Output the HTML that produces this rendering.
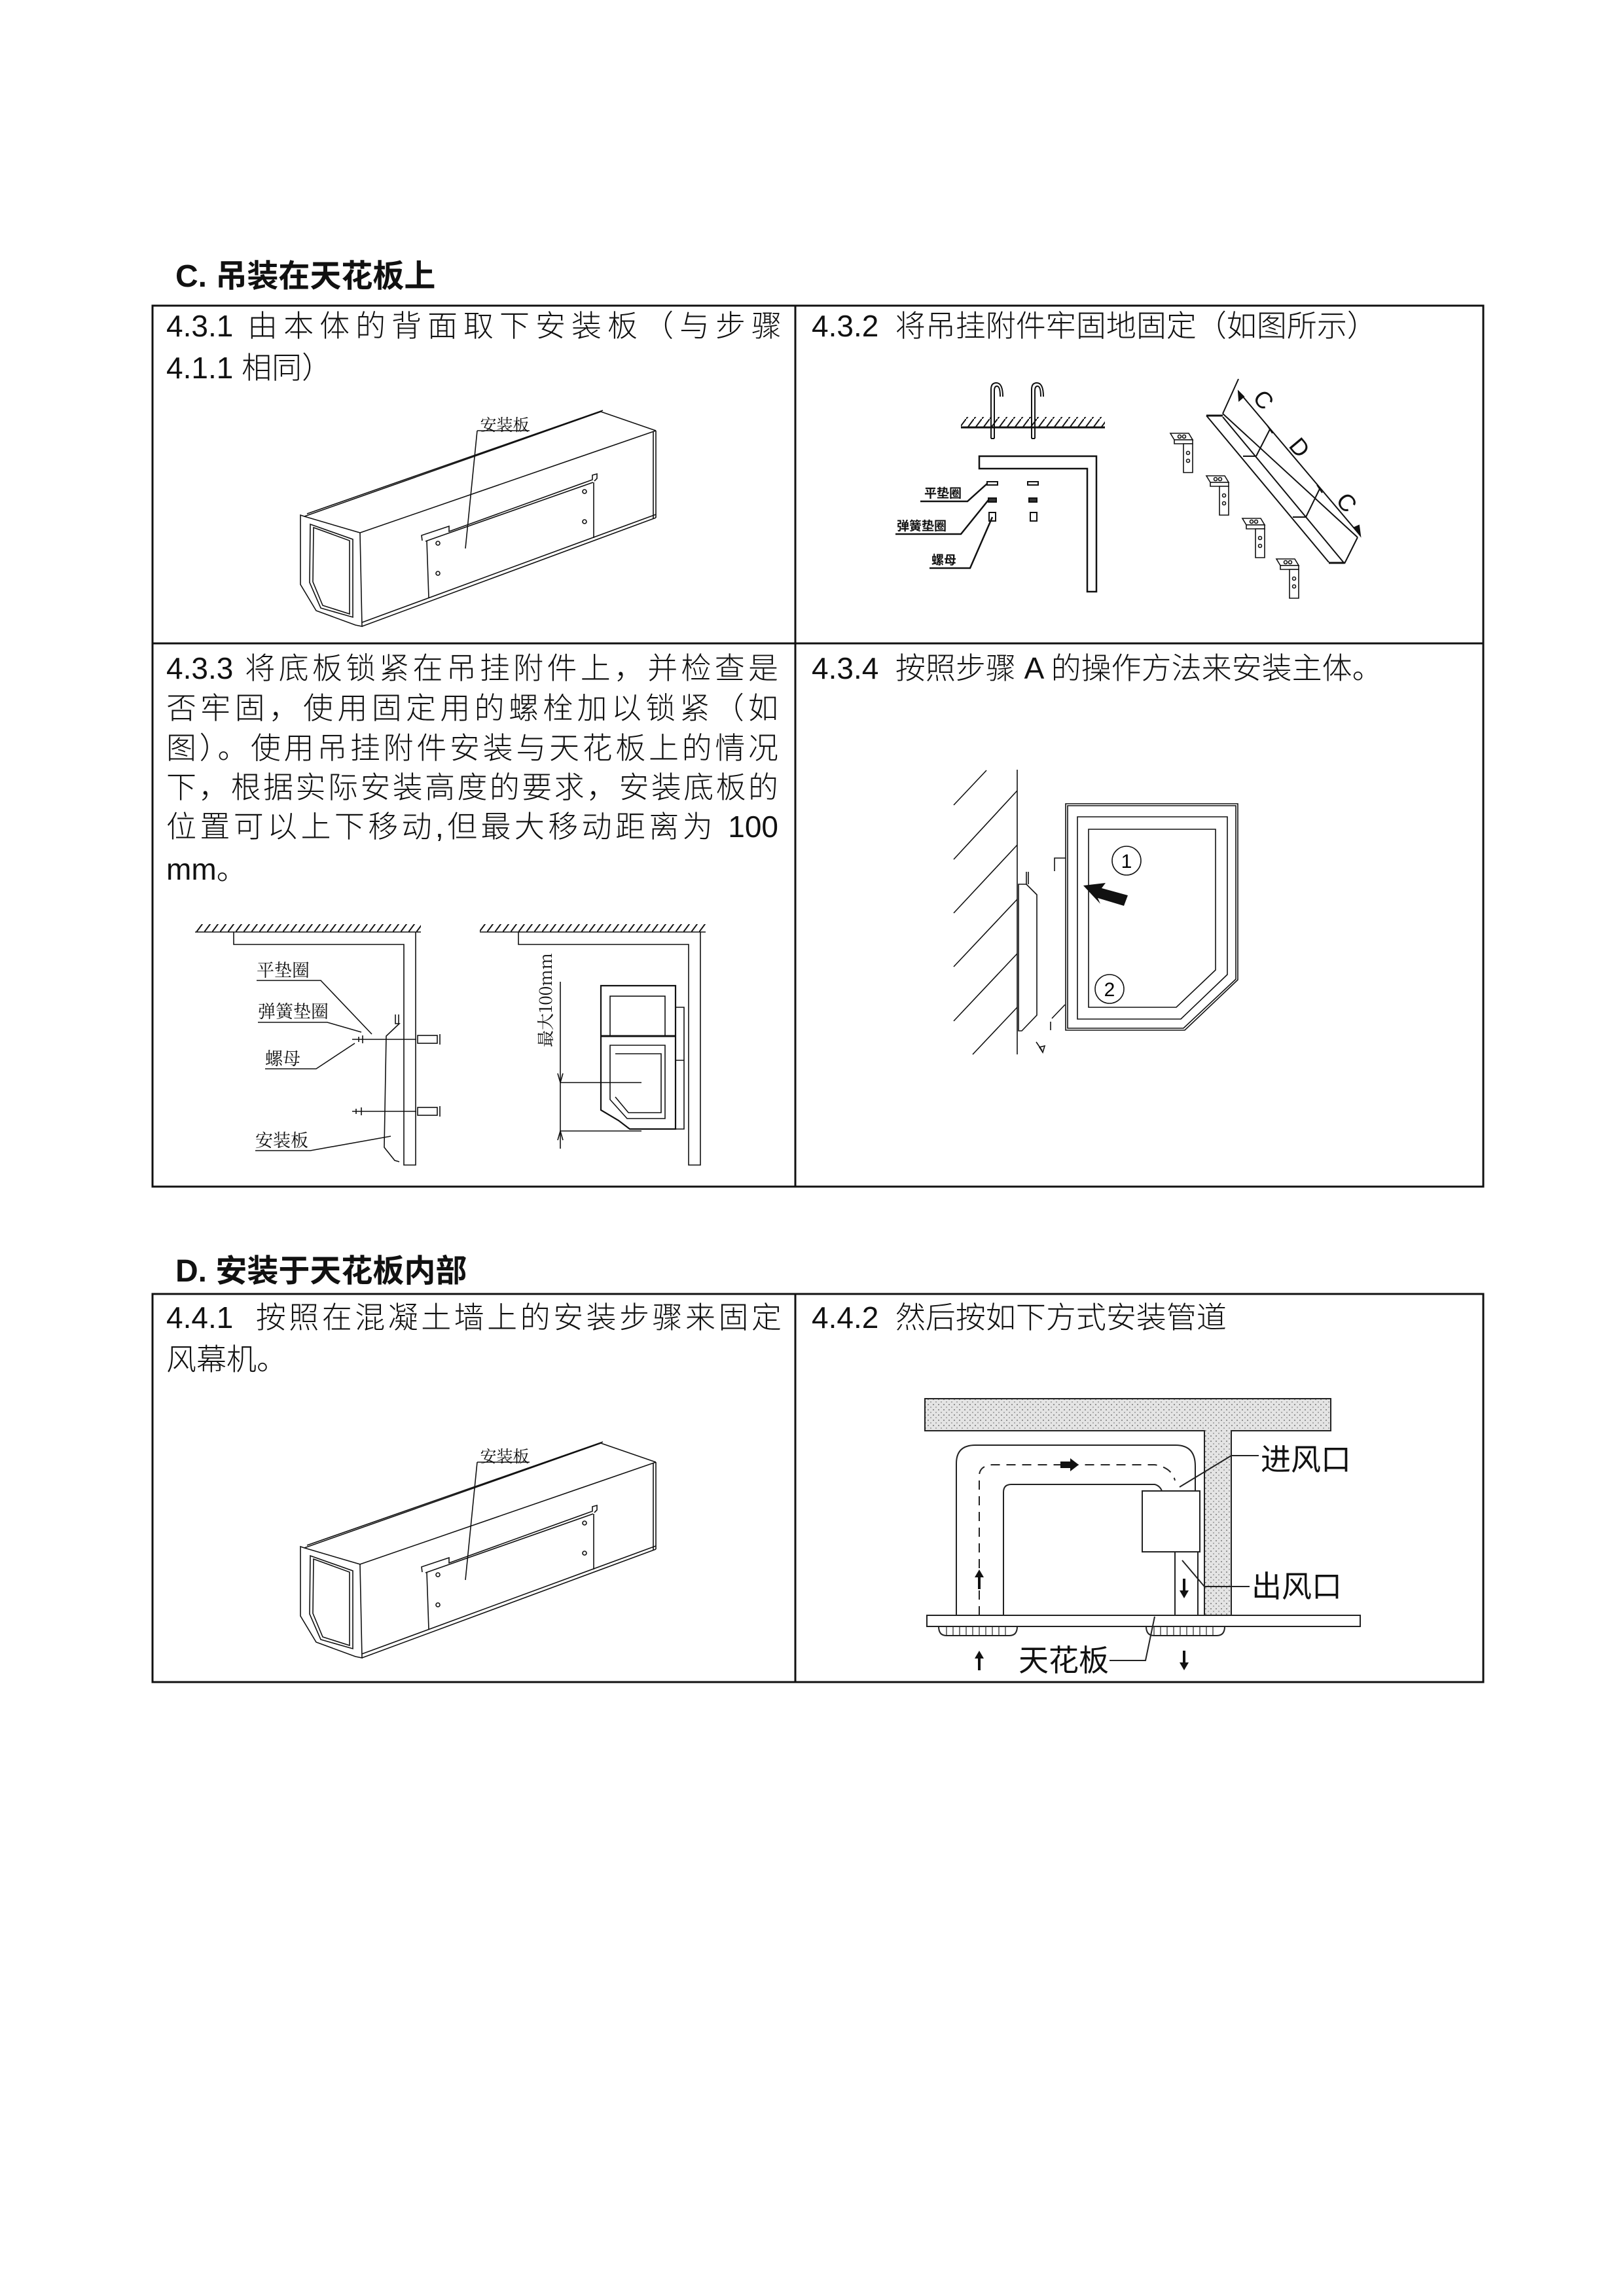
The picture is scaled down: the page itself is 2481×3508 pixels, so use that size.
<!DOCTYPE html>
<html><head><meta charset="utf-8"><style>
html,body{margin:0;padding:0;background:#fff;}
body{width:2481px;height:3508px;position:relative;overflow:hidden;font-family:"Liberation Sans","Noto Sans CJK SC",sans-serif;color:#111;}
.h{position:absolute;font-weight:bold;font-size:48px;line-height:60px;white-space:nowrap;}
.t{position:absolute;font-size:46px;line-height:62px;height:62px;white-space:nowrap;font-weight:300;}
.j{text-align:justify;text-align-last:justify;}
svg{position:absolute;left:0;top:0;}
</style></head><body>
<svg width="2481" height="3508" viewBox="0 0 2481 3508" xmlns="http://www.w3.org/2000/svg">
<defs>
<pattern id="hatch" width="12" height="16" patternUnits="userSpaceOnUse"><line x1="0" y1="16" x2="12" y2="0" stroke="#111" stroke-width="2"/></pattern>
<pattern id="dots" width="8" height="8" patternUnits="userSpaceOnUse"><rect width="8" height="8" fill="#e4e4e4"/><circle cx="2" cy="2" r="1" fill="#777"/><circle cx="6" cy="6" r="1" fill="#999"/></pattern>
<g id="box" fill="none" stroke="#111" stroke-width="1.6">
<path d="M465,789 L550,814 L553,957 L543,955 L483,933 L459,893 L459,787 Z"/>
<path d="M474,801 L539,824 L539,943 L490,929 L473,890 Z"/>
<path d="M479,806 L534,826 L534,938 L493,925 L478,889 Z"/>
<line x1="465" y1="789" x2="918" y2="629"/><line x1="469" y1="785" x2="921" y2="627"/>
<line x1="918" y1="629" x2="1002" y2="658"/>
<line x1="550" y1="814" x2="1002" y2="658"/>
<line x1="1002" y1="658" x2="1002" y2="791"/><line x1="998" y1="660" x2="998" y2="792"/>
<line x1="553" y1="957" x2="1002" y2="791"/><line x1="553" y1="951" x2="1002" y2="786"/>
<path d="M645,826 L644,818 L686,804 L686,812 L905,733 L905,726 L912,724 L912,731 L908,735"/>
<line x1="650" y1="827" x2="906" y2="737"/>
<path d="M652,826 L655,913 M907,737 L907,822"/>
<circle cx="669" cy="830" r="3"/><circle cx="669" cy="876" r="3"/><circle cx="893" cy="751" r="3"/><circle cx="893" cy="797" r="3"/>
<line x1="729" y1="658" x2="809" y2="658"/><line x1="729" y1="658" x2="711" y2="838"/>
</g>
</defs>
<!-- tables -->
<g fill="none" stroke="#111" stroke-width="3">
<rect x="233" y="467" width="2033" height="1346"/>
<line x1="1215" y1="467" x2="1215" y2="1813"/>
<line x1="233" y1="983" x2="2266" y2="983"/>
<rect x="233" y="1977" width="2033" height="593"/>
<line x1="1215" y1="1977" x2="1215" y2="2570"/>
</g>
<!-- box diagrams -->
<use href="#box"/>
<text x="771" y="658" font-family="Noto Serif CJK SC,serif" font-size="25" text-anchor="middle" fill="#111">安装板</text>
<g transform="translate(0,1576)"><use href="#box"/>
<text x="771" y="658" font-family="Noto Serif CJK SC,serif" font-size="25" text-anchor="middle" fill="#111">安装板</text></g>

<!-- 4.3.2 -->
<g fill="none" stroke="#111" stroke-width="2">
<rect x="1468" y="637" width="220" height="15" fill="url(#hatch)" stroke="none"/>
<line x1="1468" y1="653" x2="1688" y2="653" stroke-width="3"/>
<path d="M1514,670 L1514,595 Q1514,585 1522,585 Q1532,585 1532,606 M1519,670 L1519,597 Q1519,590 1523,590 Q1528,590 1528,606 M1514,670 L1519,670"/>
<path d="M1576,670 L1576,595 Q1576,585 1584,585 Q1594,585 1594,606 M1581,670 L1581,597 Q1581,590 1585,590 Q1590,590 1590,606 M1576,670 L1581,670"/>
<path d="M1496,697 L1675,697 L1675,904 L1661,904 L1661,716 L1496,716 Z" stroke-width="2.5"/>
<rect x="1508" y="736" width="16" height="5"/><rect x="1570" y="736" width="16" height="5"/>
<rect x="1510" y="761" width="12" height="6" fill="#333"/><rect x="1572" y="761" width="12" height="6" fill="#333"/>
<rect x="1511" y="783" width="10" height="13"/><rect x="1574" y="783" width="10" height="13"/>
<path d="M1406,766 L1478,766 L1508,739" stroke-width="2.5"/>
<path d="M1368,816 L1468,816 L1510,764" stroke-width="2.5"/>
<path d="M1420,868 L1482,868 L1516,790" stroke-width="2.5"/>
<line x1="1843" y1="635" x2="2030" y2="859"/>
<line x1="1868" y1="637" x2="2054" y2="861"/>
<line x1="1868" y1="632" x2="2074" y2="821"/>
<line x1="2074" y1="821" x2="2054" y2="861"/>
<line x1="1843" y1="635" x2="1868" y2="635" stroke-width="3"/>
<line x1="2030" y1="860" x2="2054" y2="860" stroke-width="3"/>
<line x1="1899" y1="697" x2="1919" y2="697"/><line x1="1919" y1="697" x2="1940" y2="656"/>
<line x1="1975" y1="790" x2="1995" y2="790"/><line x1="1995" y1="790" x2="2016" y2="747"/>
<line x1="1892" y1="579" x2="1868" y2="632"/>
<line x1="1892" y1="598" x2="2078" y2="818"/>
<path d="M1936,650 L1944,662 M2012,741 L2020,753"/>
<path d="M1892,598 L1893,612 L1900,606 Z M2078,818 L2069,806 L2076,803 Z" fill="#111"/>
</g>
<g font-family="Noto Sans CJK SC,sans-serif" font-weight="bold" font-size="19" fill="#111">
<text x="1412" y="760">平垫圈</text><text x="1370" y="810">弹簧垫圈</text><text x="1423" y="862">螺母</text>
</g>
<g font-family="Liberation Sans,sans-serif" font-size="36" fill="#111" text-anchor="middle">
<text transform="translate(1930,611) rotate(50)" dy="12">C</text>
<text transform="translate(1985,684) rotate(50)" dy="12">D</text>
<text transform="translate(2057,768) rotate(50)" dy="12">C</text>
</g>
<g fill="#fff" stroke="#111" stroke-width="1.6">
<g transform="translate(1802,684)"><path d="M-14,-22 L14,-22 L20,-12 L-8,-12 Z"/><path d="M-8,-12 L20,-12 L20,-6 L-8,-6 Z"/><path d="M6,-6 L20,-6 L20,38 L6,38 Z"/><circle cx="0" cy="-17" r="2.5"/><circle cx="7" cy="-17" r="2.5"/><circle cx="13" cy="8" r="2.5"/><circle cx="13" cy="20" r="2.5"/></g>
<g transform="translate(1857,749)"><path d="M-14,-22 L14,-22 L20,-12 L-8,-12 Z"/><path d="M-8,-12 L20,-12 L20,-6 L-8,-6 Z"/><path d="M6,-6 L20,-6 L20,38 L6,38 Z"/><circle cx="0" cy="-17" r="2.5"/><circle cx="7" cy="-17" r="2.5"/><circle cx="13" cy="8" r="2.5"/><circle cx="13" cy="20" r="2.5"/></g>
<g transform="translate(1912,814)"><path d="M-14,-22 L14,-22 L20,-12 L-8,-12 Z"/><path d="M-8,-12 L20,-12 L20,-6 L-8,-6 Z"/><path d="M6,-6 L20,-6 L20,38 L6,38 Z"/><circle cx="0" cy="-17" r="2.5"/><circle cx="7" cy="-17" r="2.5"/><circle cx="13" cy="8" r="2.5"/><circle cx="13" cy="20" r="2.5"/></g>
<g transform="translate(1964,876)"><path d="M-14,-22 L14,-22 L20,-12 L-8,-12 Z"/><path d="M-8,-12 L20,-12 L20,-6 L-8,-6 Z"/><path d="M6,-6 L20,-6 L20,38 L6,38 Z"/><circle cx="0" cy="-17" r="2.5"/><circle cx="7" cy="-17" r="2.5"/><circle cx="13" cy="8" r="2.5"/><circle cx="13" cy="20" r="2.5"/></g>
</g>

<!-- 4.3.3 -->
<g fill="none" stroke="#111" stroke-width="1.6">
<rect x="298" y="1412" width="345" height="12" fill="url(#hatch)" stroke="none"/>
<line x1="298" y1="1424" x2="643" y2="1424"/>
<path d="M357,1424 L357,1443 L617,1443 L617,1780 L635,1780 L635,1424"/>
<path d="M604,1550 L604,1564 L610,1564 L590,1583 L587,1753 L603,1773 L610,1775"/>
<path d="M609,1550 L609,1565"/>
<line x1="538" y1="1588" x2="636" y2="1588"/><rect x="638" y="1582" width="30" height="12"/><line x1="672" y1="1580" x2="672" y2="1596"/>
<line x1="538" y1="1698" x2="636" y2="1698"/><rect x="638" y="1692" width="30" height="12"/><line x1="672" y1="1690" x2="672" y2="1706"/>
<path d="M548,1584 L548,1592 M554,1582 L554,1594 M544,1694 L544,1702 M552,1692 L552,1704"/>
<path d="M392,1498 L490,1498 L568,1580 M394,1562 L500,1562 L552,1577 M405,1633 L483,1633 L542,1594 M390,1758 L474,1758 L597,1736"/>
<rect x="733" y="1412" width="345" height="12" fill="url(#hatch)" stroke="none"/>
<line x1="733" y1="1424" x2="1078" y2="1424"/>
<path d="M792,1424 L792,1443 L1052,1443 L1052,1780 L1070,1780 L1070,1424"/>
<path d="M918,1506 L1032,1506 L1032,1725 L962,1725 L945,1712 L918,1696 Z" stroke-width="2.2"/>
<rect x="932" y="1522" width="84" height="61"/>
<path d="M932,1597 L1016,1597 L1016,1709 L958,1709 L932,1680 Z"/>
<path d="M940,1610 L1010,1610 L1010,1700 L960,1700 L940,1676"/>
<line x1="918" y1="1583" x2="1032" y2="1583" stroke-width="3"/>
<path d="M1032,1539 L1045,1539 L1045,1725 L1032,1725 M1032,1620 L1045,1620"/>
<line x1="856" y1="1500" x2="856" y2="1755"/>
<path d="M856,1654 L980,1654 M856,1728 L980,1728"/>
<path d="M852,1640 L856,1654 L860,1640 M852,1742 L856,1728 L860,1742"/>
</g>
<g font-family="Noto Serif CJK SC,serif" font-size="27" fill="#111">
<text x="392" y="1492">平垫圈</text><text x="394" y="1555">弹簧垫圈</text><text x="405" y="1627">螺母</text><text x="390" y="1752">安装板</text>
<text transform="translate(843,1600) rotate(-90)" font-size="26">最大100mm</text>
</g>

<!-- 4.3.4 -->
<g fill="none" stroke="#111" stroke-width="1.6">
<line x1="1554" y1="1176" x2="1554" y2="1611"/>
<path d="M1457,1230 L1507,1177 M1457,1313 L1554,1208 M1457,1395 L1554,1291 M1457,1477 L1554,1374 M1457,1560 L1554,1457 M1486,1611 L1554,1539"/>
<path d="M1628,1228 L1891,1228 L1891,1497 L1810,1574 L1628,1574 Z"/>
<path d="M1631,1231 L1888,1231 L1888,1496 L1808,1571 L1631,1571 Z"/>
<path d="M1646,1248 L1875,1248 L1875,1489 L1804,1557 L1646,1557 Z"/>
<path d="M1663,1267 L1857,1267 L1857,1482 L1797,1539 L1663,1539 Z"/>
<circle cx="1721" cy="1315" r="22"/><circle cx="1695" cy="1511" r="22"/>
<path d="M1556,1351 L1568,1351 L1584,1367 L1584,1551 L1561,1575 L1556,1575 Z"/>
<path d="M1568,1332 L1568,1351 M1571,1332 L1571,1351"/>
<path d="M1611,1331 L1611,1311 L1628,1311"/>
<path d="M1605,1574 L1605,1561 M1607,1556 L1627,1535"/>
<path d="M1583,1592 L1592,1605 M1588,1600 L1596,1598 L1593,1608 Z"/>
</g>
<text x="1721" y="1326" font-family="Liberation Sans,sans-serif" font-size="30" text-anchor="middle" font-weight="300">1</text>
<text x="1695" y="1522" font-family="Liberation Sans,sans-serif" font-size="30" text-anchor="middle">2</text>
<path d="M1655,1353 L1689,1349 L1683,1357 L1723,1368 L1717,1384 L1677,1372 L1681,1381 Z" fill="#111"/>

<!-- 4.4.2 -->
<path d="M1413,2137 L2033,2137 L2033,2186 L1881,2186 L1881,2468 L1840,2468 L1840,2186 L1413,2186 Z" fill="url(#dots)" stroke="#222" stroke-width="2"/>
<rect x="1416" y="2468" width="662" height="17" fill="#fff" stroke="#222" stroke-width="2"/>
<g fill="none" stroke="#222" stroke-width="2">
<path d="M1461,2468 L1461,2236 Q1461,2208 1490,2208 L1796,2208 Q1826,2208 1826,2240 L1826,2278"/>
<path d="M1533,2468 L1533,2280 Q1533,2268 1545,2268 L1764,2268 Q1772,2270 1775,2278"/>
<rect x="1745" y="2278" width="88" height="93" fill="#fff"/>
<path d="M1795,2371 L1795,2468 M1830,2371 L1830,2468"/>
<path d="M1434,2485 Q1434,2499 1446,2499 L1542,2499 Q1554,2499 1554,2485 M1751,2485 Q1751,2499 1763,2499 L1859,2499 Q1871,2499 1871,2485"/>
<path d="M1446,2485 V2499 M1456,2485 V2499 M1466,2485 V2499 M1476,2485 V2499 M1486,2485 V2499 M1496,2485 V2499 M1506,2485 V2499 M1516,2485 V2499 M1526,2485 V2499 M1536,2485 V2499 M1763,2485 V2499 M1773,2485 V2499 M1783,2485 V2499 M1793,2485 V2499 M1803,2485 V2499 M1813,2485 V2499 M1823,2485 V2499 M1833,2485 V2499 M1843,2485 V2499 M1853,2485 V2499" stroke-width="1.2"/>
<path d="M1496,2468 L1496,2255 Q1496,2240 1515,2238 L1764,2238 Q1790,2242 1795,2262" stroke-dasharray="14,10"/>
<path d="M1802,2272 L1881,2224 L1923,2224 M1806,2384 L1840,2424 L1909,2424 M1695,2537 L1750,2537 L1764,2470"/>
</g>
<path d="M1620,2233 L1635,2233 L1635,2228 L1648,2238 L1635,2248 L1635,2243 L1620,2243 Z" fill="#111"/>
<g fill="#111">
<path d="M1494,2428 L1494,2410 L1489,2410 L1496,2398 L1503,2410 L1498,2410 L1498,2428 Z"/>
<path d="M1807,2412 L1807,2430 L1802,2430 L1809,2442 L1816,2430 L1811,2430 L1811,2412 Z"/>
<path d="M1494,2552 L1494,2534 L1489,2534 L1496,2522 L1503,2534 L1498,2534 L1498,2552 Z"/>
<path d="M1807,2522 L1807,2540 L1802,2540 L1809,2552 L1816,2540 L1811,2540 L1811,2522 Z"/>
</g>
<g font-family="Noto Sans CJK SC,sans-serif" font-size="46" fill="#111">
<text x="1926" y="2246">进风口</text><text x="1912" y="2440">出风口</text><text x="1556" y="2553">天花板</text>
</g>
</svg>

<div class="h" style="left:268px;top:393px;">C.&nbsp;吊装在天花板上</div>
<div class="h" style="left:268px;top:1913px;">D.&nbsp;安装于天花板内部</div>

<div class="t j" style="left:254px;top:467px;width:940px;">4.3.1 由本体的背面取下安装板（与步骤</div>
<div class="t" style="left:254px;top:531px;">4.1.1 相同）</div>

<div class="t" style="left:1240px;top:467px;">4.3.2&nbsp; 将吊挂附件牢固地固定（如图所示）</div>

<div class="t j" style="left:254px;top:990px;width:935px;">4.3.3 将底板锁紧在吊挂附件上，并检查是</div>
<div class="t j" style="left:254px;top:1051px;width:935px;">否牢固，使用固定用的螺栓加以锁紧（如</div>
<div class="t j" style="left:254px;top:1112px;width:935px;">图）。使用吊挂附件安装与天花板上的情况</div>
<div class="t j" style="left:254px;top:1172px;width:935px;">下，根据实际安装高度的要求，安装底板的</div>
<div class="t j" style="left:254px;top:1232px;width:935px;">位置可以上下移动,但最大移动距离为 100</div>
<div class="t" style="left:254px;top:1297px;">mm。</div>

<div class="t" style="left:1240px;top:990px;">4.3.4&nbsp; 按照步骤 A 的操作方法来安装主体。</div>

<div class="t j" style="left:254px;top:1982px;width:940px;">4.4.1&nbsp; 按照在混凝土墙上的安装步骤来固定</div>
<div class="t" style="left:254px;top:2046px;">风幕机。</div>

<div class="t" style="left:1240px;top:1982px;">4.4.2&nbsp; 然后按如下方式安装管道</div>
</body></html>
